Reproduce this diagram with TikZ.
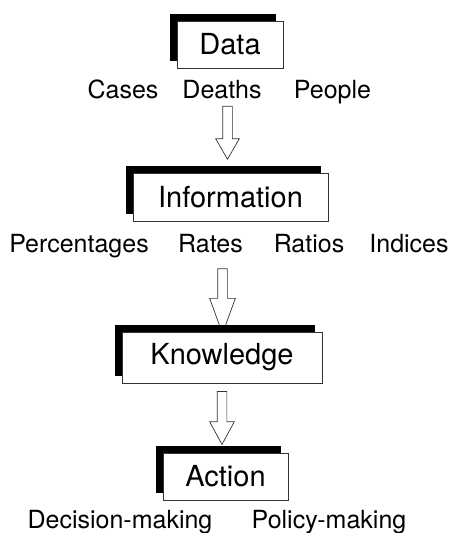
\documentclass[tikz,border=0pt]{standalone}
\usepackage{fontspec}
\setmainfont{TeX Gyre Heros}
\usetikzlibrary{shapes.arrows,shadows}

\begin{document}
\begin{tikzpicture}[x=1pt, y=-1pt,
    stage/.style={rectangle, draw=black!80, line width=0.8pt, fill=white, inner sep=0,
        font=\fontsize{29}{32}\selectfont,
        drop shadow={shadow xshift=-7pt, shadow yshift=7pt, fill=black, opacity=1}},
    lab/.style={anchor=base, inner sep=0, font=\fontsize{25}{30}\selectfont},
    hollow/.style={single arrow, draw=black!80, line width=0.7pt, fill=white,
        inner xsep=0pt, inner ysep=4.5pt, rotate=-90, single arrow head indent=0pt}]
    \useasboundingbox (0, 0) rectangle (451, 533);

    \node[stage, minimum width=106pt, minimum height=47pt] (stage-0) at (230, 44.5) {Data};

    \node[lab] (lab-0-1) at (123, 98) {Cases};
    \node[lab] (lab-0-2) at (222, 98) {Deaths};
    \node[lab] (lab-0-3) at (332.5, 98) {People};

    \node[hollow, minimum height=53pt, single arrow head extend=7pt,
        single arrow tip angle=60] (arr-1) at (227.5, 128.5) {};

    \node[stage, minimum width=195pt, minimum height=48pt] (stage-1) at (230.5, 197) {Information};

    \node[lab] (lab-1-1) at (79, 252) {Percentages};
    \node[lab] (lab-1-2) at (210.5, 252) {Rates};
    \node[lab] (lab-1-3) at (309, 252) {Ratios};
    \node[lab] (lab-1-4) at (409, 252) {Indices};

    \node[hollow, minimum height=65pt, single arrow head extend=8pt,
        single arrow tip angle=40] (arr-2) at (222.5, 294.5) {};

    \node[stage, minimum width=200pt, minimum height=51pt] (stage-2) at (222, 357.5) {Knowledge};

    \node[hollow, minimum height=53pt, single arrow head extend=7.5pt,
        single arrow tip angle=57] (arr-3) at (222, 413.5) {};

    \node[stage, minimum width=125pt, minimum height=47pt] (stage-3) at (225.5, 476.5) {Action};

    \node[lab] (lab-3-1) at (120, 528) {Decision-making};
    \node[lab] (lab-3-2) at (329, 528) {Policy-making};
\end{tikzpicture}
\end{document}
